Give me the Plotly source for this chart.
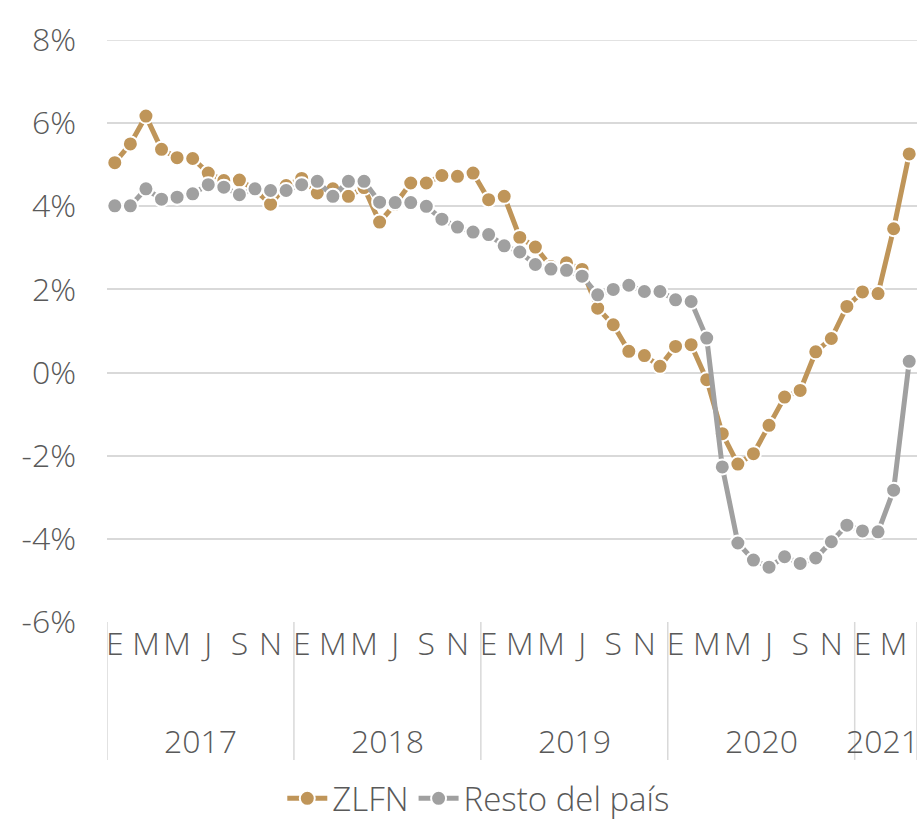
import plotly.graph_objects as go

# ---- data ----
years = ["2017", "2018", "2019", "2020", "2021"]
months_per_year = [12, 12, 12, 12, 4]
month_letters = ["E", "F", "M", "A", "M", "J", "J", "A", "S", "O", "N", "D"]

zlfn = [5.05, 5.50, 6.17, 5.37, 5.17, 5.15, 4.80, 4.62, 4.63, 4.40, 4.05, 4.50,
        4.67, 4.32, 4.42, 4.24, 4.45, 3.62, 4.05, 4.56, 4.56, 4.74, 4.72, 4.80,
        4.16, 4.24, 3.25, 3.02, 2.55, 2.64, 2.48, 1.55, 1.15, 0.51, 0.41, 0.15,
        0.63, 0.67, -0.17, -1.47, -2.20, -1.95, -1.27, -0.59, -0.43, 0.50, 0.82, 1.59,
        1.94, 1.90, 3.46, 5.26]
resto = [4.01, 4.01, 4.42, 4.17, 4.22, 4.30, 4.52, 4.46, 4.28, 4.42, 4.38, 4.38,
         4.52, 4.60, 4.24, 4.60, 4.60, 4.10, 4.09, 4.09, 4.00, 3.69, 3.50, 3.38,
         3.32, 3.05, 2.90, 2.60, 2.49, 2.46, 2.32, 1.87, 2.00, 2.10, 1.95, 1.95,
         1.75, 1.71, 0.83, -2.27, -4.10, -4.51, -4.68, -4.43, -4.59, -4.46, -4.07, -3.67,
         -3.81, -3.83, -2.83, 0.27]
y_ticks = [-6, -4, -2, 0, 2, 4, 6, 8]

# ---- build axis helpers ----
x = list(range(len(zlfn)))
tickvals, ticktext = [], []
year_starts = []
pos = 0
for yr, n in zip(years, months_per_year):
    year_starts.append(pos)
    for m in range(n):
        if m % 2 == 0:
            tickvals.append(pos + m)
            ticktext.append(month_letters[m])
    pos += n
year_bounds = [s - 0.5 for s in year_starts] + [pos - 0.5]

GOLD = "#BF9559"
GRAY = "#A0A0A0"
TXT = "#595959"
GRID = "#D9D9D9"
FONT = "Open Sans"
FW = 300
FS = 32

fig = go.Figure()
fig.add_trace(go.Scatter(
    x=x, y=zlfn, name="ZLFN", mode="lines+markers",
    line=dict(color=GOLD, width=5),
    marker=dict(size=15, color=GOLD, line=dict(color="white", width=2)),
))
fig.add_trace(go.Scatter(
    x=x, y=resto, name="Resto del país", mode="lines+markers",
    line=dict(color=GRAY, width=5),
    marker=dict(size=15, color=GRAY, line=dict(color="white", width=2)),
))

# year dividers and labels
for b in year_bounds:
    fig.add_shape(type="line", xref="x", yref="paper", x0=b, x1=b, y0=0, y1=-0.237,
                  line=dict(color=GRID, width=1.5))
for i, (yr, s, n) in enumerate(zip(years, year_starts, months_per_year)):
    fig.add_annotation(x=s + (n - 1) / 2, xref="x", y=-0.204, yref="paper",
                       text=yr, showarrow=False, yanchor="middle",
                       xshift=-3 if i == len(years) - 1 else 0,
                       font=dict(family=FONT, size=FS, color=TXT, weight=FW))
# top gridline (8%)
fig.add_shape(type="line", xref="paper", yref="y", x0=0, x1=1, y0=8, y1=8,
              line=dict(color=GRID, width=1.5), layer="below")

fig.update_layout(
    width=920, height=824,
    margin=dict(l=107, r=3, t=40, b=202, autoexpand=False),
    paper_bgcolor="white", plot_bgcolor="white",
    font=dict(family=FONT, size=FS, color=TXT, weight=FW),
    showlegend=True,
    legend=dict(orientation="h", x=0.459, xanchor="center", y=-0.303, yanchor="middle",
                font=dict(family=FONT, size=FS + 1, color=TXT, weight=FW),
                tracegroupgap=0, itemwidth=40),
    xaxis=dict(range=[-0.5, len(zlfn) - 0.5], tickmode="array", tickvals=tickvals,
               ticktext=ticktext, tickangle=0, showgrid=False, zeroline=False,
               showline=False, ticks="", automargin=False,
               tickfont=dict(family=FONT, size=FS, color=TXT, weight=FW)),
    yaxis=dict(range=[-6, 8], tickmode="array", tickvals=y_ticks,
               ticktext=[f"{v}%" for v in y_ticks], showgrid=True, gridcolor=GRID,
               gridwidth=1.5, zeroline=False, showline=False, ticks="",
               ticklabelstandoff=30, automargin=False,
               tickfont=dict(family=FONT, size=FS, color=TXT, weight=FW)),
)

fig.write_html("out.html", config={"displayModeBar": False},
               post_script="document.body.style.margin='0';document.body.style.overflow='hidden';")
